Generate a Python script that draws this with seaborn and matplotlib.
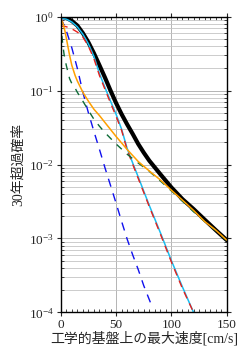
import matplotlib
matplotlib.use("Agg")
import matplotlib.pyplot as plt
import matplotlib.ticker as mticker
import seaborn as sns

# values: x = peak velocity on engineering bedrock [cm/s],
# y = 30-year exceedance probability
total_v = [0, 5, 10, 15, 20, 25, 30, 35, 40, 45, 50, 55, 60, 65, 70, 75, 80, 90, 100, 110, 120, 130, 140, 150]
total_p = [1.0, 0.97, 0.88, 0.76, 0.6, 0.45, 0.32, 0.22, 0.15, 0.1, 0.068, 0.048, 0.035, 0.026, 0.019,
           0.0145, 0.0113, 0.0074, 0.0049, 0.0034, 0.0025, 0.0018, 0.0013, 0.00095]

cyan_v = [0, 5, 10, 15, 20, 25, 30, 35, 40, 45, 50, 55, 60, 65, 70, 80, 90, 100, 110, 120]
cyan_p = [0.97, 0.93, 0.85, 0.73, 0.58, 0.43, 0.29, 0.17, 0.11, 0.072, 0.048, 0.03, 0.0165, 0.0105,
          0.0068, 0.0028, 0.0012, 0.0005, 0.00022, 0.0001]

red_v = [0, 4, 8, 12, 15, 18, 20, 25, 30, 35, 40, 45, 50, 55, 60, 65, 70, 80, 90, 100, 110, 120]
red_p = [0.75, 0.74, 0.71, 0.66, 0.62, 0.57, 0.53, 0.4, 0.27, 0.16, 0.104, 0.068, 0.045, 0.029, 0.0158,
         0.0101, 0.0065, 0.0027, 0.00115, 0.00048, 0.00021, 0.0001]

orange_v = [0, 2, 4, 6, 8, 10, 13, 15, 20, 25, 30, 35, 40, 50, 60, 70, 80, 90, 100, 110, 120, 130, 140, 150]
orange_p = [0.95, 0.82, 0.62, 0.43, 0.3, 0.22, 0.16, 0.135, 0.095, 0.072, 0.056, 0.046, 0.037, 0.024,
            0.016, 0.011, 0.0082, 0.0062, 0.0045, 0.0033, 0.0024, 0.0017, 0.0013, 0.00095]

green_v = [0, 1, 2, 3, 5, 8, 10, 13, 15, 20, 25, 30, 35, 40, 50, 60, 70, 80, 90, 100, 110, 120, 130, 140, 150]
green_p = [0.85, 0.55, 0.4, 0.31, 0.22, 0.145, 0.125, 0.108, 0.095, 0.072, 0.054, 0.041, 0.033, 0.027,
           0.019, 0.0138, 0.0105, 0.0081, 0.006, 0.0044, 0.0032, 0.0023, 0.0017, 0.00128, 0.00094]

blue_v = [0, 5, 10, 15, 20, 25, 30, 35, 40, 45, 50, 55, 60, 65, 70, 75, 82]
blue_p = [0.97, 0.65, 0.38, 0.2, 0.095, 0.05, 0.028, 0.016, 0.009, 0.0052, 0.003, 0.0017, 0.00098,
          0.0006, 0.00038, 0.00023, 0.000125]

x_ticks = [0, 50, 100, 150]
xlabel = "工学的基盤上の最大速度[cm/s]"
ylabel = "30年超過確率"

sns.set_style("ticks")
plt.rcParams['font.family'] = ['Liberation Serif', 'Noto Sans CJK JP']
plt.rcParams['mathtext.fontset'] = 'custom'
plt.rcParams['mathtext.rm'] = 'Liberation Serif'
plt.rcParams['mathtext.it'] = 'Liberation Serif:italic'

fig = plt.figure(figsize=(2.47, 3.57), dpi=100)
ax = fig.add_axes([0.246, 0.125, 0.672, 0.828])

sns.lineplot(x=total_v, y=total_p, ax=ax, color='black', linewidth=3.0)
sns.lineplot(x=cyan_v, y=cyan_p, ax=ax, color='#18bdf0', linewidth=1.1)
sns.lineplot(x=red_v, y=red_p, ax=ax, color='#e8201c', linewidth=1.0, linestyle=(0, (5, 4)))
sns.lineplot(x=blue_v, y=blue_p, ax=ax, color='#1010ee', linewidth=1.0, linestyle=(0, (6, 5)))
sns.lineplot(x=green_v, y=green_p, ax=ax, color='#0d6b36', linewidth=1.0, linestyle=(0, (5, 5)))
sns.lineplot(x=orange_v, y=orange_p, ax=ax, color='#ffa000', linewidth=1.1)

ax.set_yscale('log')
ax.set_xlim(0, 150)
ax.set_ylim(1e-4, 1)
ax.set_xticks(x_ticks)
ax.xaxis.set_minor_locator(mticker.MultipleLocator(5))
ax.yaxis.set_major_locator(mticker.LogLocator(base=10, numticks=10))
ax.yaxis.set_minor_locator(mticker.LogLocator(base=10, subs=range(2, 10), numticks=10))
ax.yaxis.set_minor_formatter(mticker.NullFormatter())

ax.grid(which='major', color='#a8a8a8', linewidth=0.6)
ax.grid(which='minor', axis='y', color='#c4c4c4', linewidth=0.6)
ax.set_axisbelow(True)

ax.tick_params(which='major', direction='out', length=3, width=0.8, top=True, right=True,
               labelsize=9.5, pad=2)
ax.tick_params(which='minor', direction='in', length=2, width=0.6, top=True, right=True)
for s in ax.spines.values():
    s.set_color('black')
    s.set_linewidth(1.0)

ax.set_xlabel(xlabel, fontsize=10, labelpad=0)
ax.set_ylabel(ylabel, fontsize=10, labelpad=3)

fig.savefig("out.png", dpi=100)
